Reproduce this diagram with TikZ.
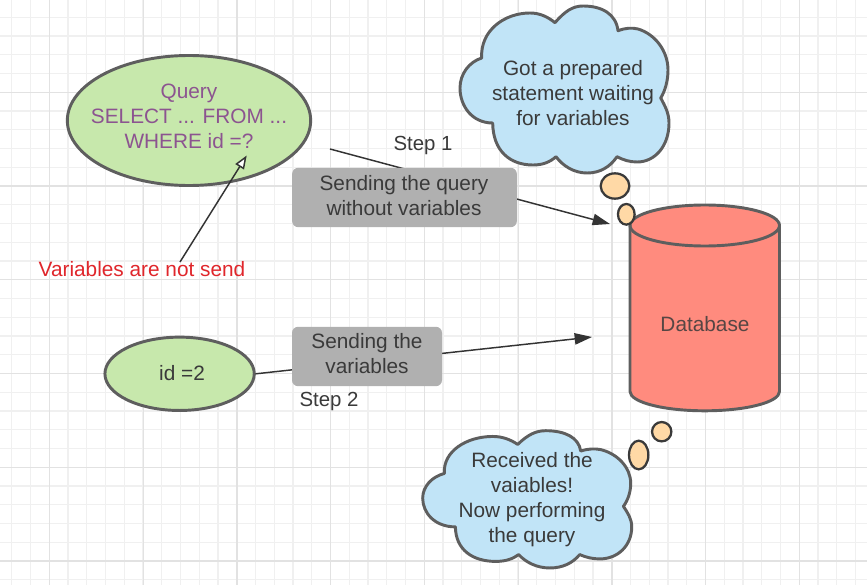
\documentclass[tikz,border=0pt]{standalone}
\usepackage{fontspec}
\setmainfont{Liberation Sans}
\usetikzlibrary{arrows.meta,shapes.geometric}
\definecolor{gridminor}{HTML}{F0F0F0}
\definecolor{gridmajor}{HTML}{E2E2E2}
\definecolor{edgegrey}{HTML}{5E5E5E}
\definecolor{inkdark}{HTML}{3A3A3A}
\definecolor{greenfill}{HTML}{C7E8AC}
\definecolor{cloudfill}{HTML}{C1E4F7}
\definecolor{peach}{HTML}{FFD9A6}
\definecolor{dbfill}{HTML}{FF8B7E}
\definecolor{boxfill}{HTML}{B0B0B0}
\definecolor{purpletext}{HTML}{8C5490}
\definecolor{redtext}{HTML}{E0262B}
\tikzset{
  lbl/.style={font=\fontsize{15.6}{18.75}\selectfont, text=inkdark, align=center, inner sep=0pt},
  bluebubble/.style={draw=edgegrey, line width=2.2pt, fill=cloudfill, line join=round},
  oval/.style={shape=ellipse, draw=edgegrey, line width=2.2pt, fill=greenfill, inner sep=0pt, outer sep=0pt},
  dbshape/.style={draw=edgegrey, line width=2.2pt, fill=dbfill},
  puff/.style={draw=inkdark, line width=1.7pt, fill=peach},
  greybox/.style={lbl, fill=boxfill, rounded corners=4.5pt, text=inkdark, anchor=center},
  link/.style={draw=black!80, line width=1.1pt},
  solidarrow/.style={link, -{Triangle[length=13pt,width=8.5pt,fill=black!80]}},
  openarrow/.style={link, -{Triangle[length=10pt,width=7.5pt,fill=white]}},
}
\newcommand{\cloudoutline}{%
  (32.7,117) .. controls (12,117) and (0,100) .. (0,82)
  .. controls (0,68) and (9,56) .. (21.7,52)
  .. controls (20,25) and (44,7) .. (70,7)
  .. controls (80,7) and (88,11) .. (95,16.7)
  .. controls (105,5) and (113,0) .. (123,0)
  .. controls (142,0) and (156,8) .. (158,24.7)
  .. controls (165,22) and (172,21.5) .. (178,23)
  .. controls (195,28) and (208,45) .. (208,64)
  .. controls (208,75) and (205,85) .. (200.7,92)
  .. controls (205,100) and (209,107) .. (209,117)
  .. controls (209,140) and (195,156) .. (177,156)
  .. controls (170,156) and (163,154) .. (157,150.7)
  .. controls (150,161) and (140,167) .. (127,167)
  .. controls (114,167) and (103,160) .. (96,150.7)
  .. controls (90,156) and (83,159) .. (73,159)
  .. controls (50,159) and (33,145) .. (32.7,117) -- cycle}
\begin{document}
\begin{tikzpicture}[x=0.75pt,y=-0.75pt]
\useasboundingbox (0,0) rectangle (867,585);
\fill[white] (0,0) rectangle (867,585);
% grid
\begin{scope}
\clip (0,0) rectangle (867,585);
\foreach \i in {0,...,46} {
  \draw[gridminor,line width=1.1pt] ({11.75+18.75*\i},0) -- ({11.75+18.75*\i},585);
}
\foreach \i in {0,...,31} {
  \draw[gridminor,line width=1.1pt] (0,{-1.5+18.75*\i}) -- (867,{-1.5+18.75*\i});
}
\foreach \i in {0,...,9} {
  \draw[gridmajor,line width=1.1pt] ({49.5+93.75*\i},0) -- ({49.5+93.75*\i},585);
}
\foreach \i in {0,...,6} {
  \draw[gridmajor,line width=1.1pt] (0,{-1.5+93.75*\i}) -- (867,{-1.5+93.75*\i});
}
\end{scope}
% free ends of connectors
\coordinate (queryout) at (330,149);
\coordinate (dbin1) at (610,224);
\coordinate (dbin2) at (592,337);
\coordinate (idout) at (254,374);
% connectors passing behind the boxes
\draw[solidarrow] (queryout) -- (dbin1);
\draw[solidarrow] (idout) -- (dbin2);
% query ellipse
\node[oval, minimum width=182.5pt, minimum height=97.5pt] (query) at (189,120.5) {};
\node[lbl, text=purpletext] (querytext) at (189,116) {Query\\SELECT ... FROM ...\\WHERE id =?};
% id ellipse
\node[oval, minimum width=112pt, minimum height=55pt] (idnode) at (179.6,373.8) {};
\node[lbl] (idtext) at (182,373) {id =2};
% boxes
\node[greybox, minimum width=168.5pt, minimum height=44.5pt] (box1) at (404.5,197.5) {};
\node[lbl] (box1text) at (404,195.5) {Sending the query\\without variables};
\node[greybox, minimum width=112.5pt, minimum height=44.5pt] (box2) at (367,356.5) {};
\node[lbl] (box2text) at (367,353.5) {Sending the\\variables};
% step labels
\node[lbl, font=\fontsize{15.3}{18.75}\selectfont] (step1) at (423,145.5) {Step 1};
\node[lbl, font=\fontsize{15.3}{18.75}\selectfont] (step2) at (329,401.5) {Step 2};
% database
\draw[dbshape] (630,225.5) -- (630,391.5)
  .. controls (630,402.2) and (663.6,410.8) .. (704.75,410.8)
  .. controls (745.9,410.8) and (779.5,402.2) .. (779.5,391.5)
  -- (779.5,225.5)
  .. controls (779.5,214.2) and (745.9,205) .. (704.75,205)
  .. controls (663.6,205) and (630,214.2) .. (630,225.5) -- cycle;
\draw[dbshape, fill=none] (630,225.5)
  .. controls (630,236.8) and (663.6,246) .. (704.75,246)
  .. controls (745.9,246) and (779.5,236.8) .. (779.5,225.5);
\node[lbl, text=inkdark!85!dbfill] (db) at (705,324) {Database};
% thought clouds
\begin{scope}[shift={(460,6)}]
  \draw[bluebubble] \cloudoutline;
\end{scope}
\node[lbl] (cloudtop) at (573,93) {Got a prepared\\statement waiting\\for variables};
\begin{scope}[shift={(422.7,430.7)},yscale=0.822]
  \draw[bluebubble] \cloudoutline;
\end{scope}
\node[lbl] (cloudbottom) at (532,499.5) {Received the\\vaiables!\\Now performing\\the query};
% puffs
\node[puff, shape=ellipse, minimum width=21.5pt, minimum height=19pt, inner sep=0pt] (puff1) at (615,186) {};
\node[puff, shape=ellipse, minimum width=12.5pt, minimum height=15.5pt, inner sep=0pt] (puff2) at (626.3,214.3) {};
\node[puff, shape=ellipse, minimum width=14.5pt, minimum height=14.5pt, inner sep=0pt] (puff3) at (661.7,431.7) {};
\node[puff, shape=ellipse, minimum width=14.5pt, minimum height=21.5pt, inner sep=0pt] (puff4) at (638.7,455) {};
% note
\node[lbl, text=redtext] (note) at (142,269) {Variables are not send};
\coordinate (notetop) at (180,262);
\coordinate (queryin) at (246.7,155.5);
\draw[openarrow] (notetop) -- (queryin);
\end{tikzpicture}
\end{document}
